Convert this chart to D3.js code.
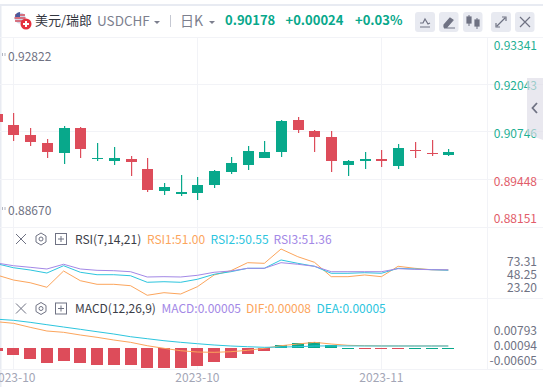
<!DOCTYPE html>
<html>
<head>
<meta charset="utf-8">
<script src="https://cdn.jsdelivr.net/npm/d3@7/dist/d3.min.js"></script>
<style>
html,body{margin:0;padding:0;background:#fff;overflow:hidden}
svg{display:block}
text{font-family:"Noto Sans CJK SC","Noto Sans",sans-serif}
</style>
</head>
<body>
<svg id="c" width="543" height="387"></svg>
<script>
// Candle data, index -1 .. 26
const opens  = [.91224,.90923,.90650,.90432,.90159,.90842,.89995,.89941,.89995,.89722,.89122,.89040,.89067,.89285,.89640,.89831,.90023,.90186,.91060,.90760,.90596,.89831,.89941,.89995,.89804,.90241,.90159,.90104];
const highs  = [.91224,.91251,.90842,.90541,.90896,.90869,.90432,.90323,.90077,.90023,.89340,.89558,.89504,.89695,.90050,.90350,.90487,.91060,.91142,.90787,.90760,.89968,.90186,.90241,.90405,.90459,.90514,.90268];
const lows   = [.91005,.90487,.90350,.90023,.89859,.90023,.89941,.89831,.89531,.89094,.89012,.88985,.88876,.89203,.89586,.89695,.90023,.90050,.90705,.90186,.89640,.89531,.89722,.89777,.89722,.90023,.90077,.90077];
const closes = [.91005,.90650,.90459,.90186,.90842,.90268,.90023,.90023,.89913,.89149,.89231,.89094,.89285,.89668,.89886,.90214,.90186,.91033,.90787,.90596,.89941,.89941,.89995,.89941,.90296,.90214,.90132,.90178];
const rsi1 = [41.6,32.1,27.0,18.4,49.1,30.8,24.0,24.0,21.4,3.3,8.2,5.7,19.5,41.6,49.7,64.8,63.6,90.6,76.1,65.5,38.4,38.4,41.6,38.4,58.0,54.2,51.5,51.0];
const rsi2 = [62.9,55.3,51.0,45.3,59.1,46.7,42.1,42.1,40.2,27.8,28.9,27.8,33.5,42.9,47.8,54.2,54.2,69.9,63.6,58.0,44.8,44.8,45.9,44.8,54.2,52.9,51.6,50.55];
const rsi3 = [64.2,59.1,56.1,52.9,61.8,52.9,50.4,49.7,47.8,37.8,38.4,37.8,41.0,46.7,49.1,54.2,54.2,64.8,61.8,58.0,47.8,47.8,47.8,47.8,53.5,52.3,51.6,51.36];
const dif = [.01137,.01063,.00876,.00704,.00643,.00518,.00410,.00285,.00177,.00019,-.00102,-.00214,-.00275,-.00289,-.00261,-.00195,-.00102,.00019,.00098,.00177,.00098,.00038,.00019,.00010,.00008,.00007,.00008,.00008];
const dea = [.01254,.01203,.01109,.00998,.00890,.00783,.00671,.00564,.00438,.00345,.00252,.00177,.00112,.00052,.00005,-.00028,-.00056,-.00042,-.00028,.00005,.00010,.00008,.00007,.00006,.00006,.00005,.00005,.00005];
const hist = [-.00154,-.00340,-.00527,-.00713,-.00620,-.00713,-.00806,-.00806,-.00806,-.00946,-.00946,-.00946,-.00853,-.00666,-.00480,-.00294,-.00140,.00140,.00233,.00280,.00140,.00002,-.00002,-.00002,-.00002,.00002,.00002,.00002];
const priceTicks = [.93341,.92043,.90746,.89448,.88151];
const rsiTicks = [73.31,48.25,23.20];
const macdTicks = [.00793,.00094,-.00605];
const dateLabels = [[1,"2023-10"],[12,"2023-10"],[23,"2023-11"]];

const GREEN="#08a88b", RED="#dd4c5a", ORANGE="#fca55c", CYAN="#2cc5de", PURPLE="#a388e6", GRID="#f2f3f7", TXT="#6f7283";
const svg=d3.select("#c");
const idx=d3.range(opens.length);
const x=d3.scaleLinear().domain([0,27]).range([-3.3,448.3]);
const xp=i=>x(i);
const yP=d3.scaleLinear().domain([.88151,.93341]).range([226.5,36.5]);
const yR=d3.scaleLinear().domain([0,100]).range([297.03,244.03]);
const yM=d3.scaleLinear().domain([-.00605,.00793]).range([359.1,329.1]);
const yH=d3.scaleLinear().domain([-.00605,.00793]).range([361,331]);

svg.append("rect").attr("width",543).attr("height",387).attr("fill","#fff");
// page chrome
svg.append("rect").attr("x",0).attr("y",4).attr("width",543).attr("height",2).attr("fill","#e8ebf2");
svg.append("rect").attr("x",0).attr("y",4).attr("width",1.5).attr("height",383).attr("fill","#e8ebf2");

// grid
const g=svg.append("g").attr("stroke",GRID).attr("fill","none");
[37].concat(priceTicks.slice(1).map(yP)).concat([297.5,368.5]).forEach(v=>{
  g.append("line").attr("x1",0).attr("x2",543).attr("y1",Math.round(v)+.5).attr("y2",Math.round(v)+.5);
});
g.append("line").attr("x1",0).attr("x2",543).attr("y1",227.5).attr("y2",227.5);
dateLabels.forEach(d=>g.append("line").attr("x1",Math.round(xp(d[0]))+.5).attr("x2",Math.round(xp(d[0]))+.5).attr("y1",37).attr("y2",369));
g.append("line").attr("x1",487.5).attr("x2",487.5).attr("y1",37).attr("y2",369);

// candles
const plot=svg.append("g");
const W=11;
idx.forEach(i=>{
  const up=closes[i]>=opens[i], col=up?GREEN:RED, cx=Math.round(xp(i));
  const yh=Math.round(yP(highs[i])), yl=Math.round(yP(lows[i]));
  plot.append("rect").attr("x",cx).attr("width",1.2).attr("y",yh).attr("height",yl-yh).attr("fill",col);
  const a=Math.round(yP(opens[i])), b=Math.round(yP(closes[i]));
  plot.append("rect").attr("x",cx-5).attr("width",W).attr("y",Math.min(a,b)).attr("height",Math.max(1,Math.abs(a-b))).attr("fill",col);
});
// RSI
const lineOf=(scale)=>d3.line().x((d,i)=>xp(i)).y(d=>scale(d));
[[rsi1,ORANGE],[rsi2,CYAN],[rsi3,PURPLE]].forEach(s=>{
  svg.append("path").attr("d",lineOf(yR)(s[0])).attr("fill","none").attr("stroke",s[1]).attr("stroke-width",1);
});
// MACD hist
hist.forEach((v,i)=>{
  const cx=Math.round(xp(i)), y0=Math.round(yH(0)), y1=Math.round(yH(v)), big=Math.abs(y1-y0)>=1;
  svg.append("rect").attr("x",cx-6).attr("width",12)
    .attr("y",big?Math.min(y0,y1):y0).attr("height",big?Math.abs(y1-y0):1)
    .attr("fill",v<0?RED:GREEN);
});
[[dif,ORANGE],[dea,CYAN]].forEach(s=>{
  svg.append("path").attr("d",lineOf(yM)(s[0])).attr("fill","none").attr("stroke",s[1]).attr("stroke-width",1);
});

// right axes
function label(t,xx,yy,o){
  return svg.append("text").attr("x",xx).attr("y",yy).text(t)
    .attr("font-size",(o&&o.s)||12).attr("fill",(o&&o.c)||TXT)
    .attr("text-anchor",(o&&o.a)||"start").attr("font-weight",(o&&o.w)||400);
}
priceTicks.forEach((v,i)=>{
  const py=[49.5,89.6,137.6,185.6,222.6][i];
  label(d3.format(".5f")(v),537,py,{a:"end",c:i<3?"#1fb094":"#e25c69"});
});
rsiTicks.forEach(v=>label(v.toFixed(2),537,yR(v)+7.7,{a:"end"}));
macdTicks.forEach(v=>label(v.toFixed(5),537,yM(v)+5.8,{a:"end"}));

// collapse handle
svg.append("path").attr("d","M543,78H527V134L543,140Z").attr("fill","#dddce6").attr("opacity",.65);
svg.append("path").attr("d","M537,103L532.5,108L537,113").attr("fill","none").attr("stroke","#6f7283").attr("stroke-width",1.8);

// hi/lo
label("0.92822",8,61,{});
label("0.88670",8,215,{});
svg.append("path").attr("d","M2.5,207v3M5,207v3M2.5,53v3M5,53v3").attr("stroke","#a0a3b3").attr("stroke-width",.8);

// x labels
dateLabels.forEach(d=>label(d[1],xp(d[0]),382,{a:"middle",c:"#a3a6b6"}));

// header
const flag=svg.append("g");
flag.append("circle").attr("cx",20).attr("cy",18).attr("r",5.5).attr("fill","#cfd3e6");
flag.append("path").attr("d","M15,15h10M14.5,18h11M15,21h10").attr("stroke","#d8505d").attr("stroke-width",1.3);
flag.append("path").attr("d","M15,17a5.5,5.5 0 0 1 5,-5v5z").attr("fill","#4a5a9c");
flag.append("circle").attr("cx",26).attr("cy",24).attr("r",5.5).attr("fill","#e6303e");
flag.append("path").attr("d","M23,24h6M26,21v6").attr("stroke","#fff").attr("stroke-width",2);
label("美元/瑞郎",35,25,{s:13,c:"#33363f"});
label("USDCHF",97,26,{s:13.5,c:"#7c7f8e"});
svg.append("path").attr("d","M154,21h6l-3,3z").attr("fill","#7c7f8e");
svg.append("rect").attr("x",170).attr("y",15).attr("width",1).attr("height",12).attr("fill","#c5c8d2");
label("日K",180,26,{s:14,c:"#7c7f8e"});
svg.append("path").attr("d","M209,21h6l-3,3z").attr("fill","#7c7f8e");
label("0.90178",225,25,{s:13,c:GREEN,w:700});
label("+0.00024",285.5,25,{s:13,c:GREEN,w:700});
label("+0.03%",355,25,{s:13,c:GREEN,w:700});
[[415,20],[439,19.5],[463,19.5],[491,20],[515,19.5]].forEach(b=>{
  svg.append("rect").attr("x",b[0]).attr("y",12).attr("width",b[1]).attr("height",20).attr("rx",3).attr("fill","#e8eaf1");
});
const ic=svg.append("g").attr("fill","none").attr("stroke","#6f7283").attr("stroke-width",1.2);
ic.append("path").attr("d","M420,23l3,0l2,-4l3,5l2,-1M420,27h10");
ic.append("path").attr("d","M444,25l6,-7l3,2l-6,7h-3zM444,28h11").attr("fill","#6f7283");
ic.append("path").attr("d","M469,15v11M477,18v11").attr("stroke-width",1);
ic.append("rect").attr("x",467).attr("y",17).attr("width",4).attr("height",6).attr("fill","#6f7283");
ic.append("rect").attr("x",475).attr("y",20).attr("width",4).attr("height",6).attr("fill","#6f7283");
ic.append("path").attr("d","M497,26l8,-8M502,17h4v4M496,23v4h4");
ic.append("path").attr("d","M520,17l10,10M530,17l-10,10");

// pane legends
function paneIcons(yc){
  const p=svg.append("g").attr("fill","none").attr("stroke","#6f7283").attr("stroke-width",1);
  p.append("path").attr("d",`M16,${yc-5}l10,10M26,${yc-5}l-10,10`);
  p.append("path").attr("d",`M41,${yc-6}l5,3v6l-5,3l-5,-3v-6z`);
  p.append("circle").attr("cx",41).attr("cy",yc).attr("r",2);
  p.append("rect").attr("x",55.5).attr("y",yc-5.5).attr("width",11).attr("height",11);
  p.append("path").attr("d",`M58,${yc}h6M61,${yc-3}v6`);
}
paneIcons(239);
paneIcons(308.5);
label("RSI(7,14,21)",75,244,{s:12,c:"#3b3e48"});
label("RSI1:51.00",147,244,{s:12,c:ORANGE});
label("RSI2:50.55",210.5,244,{s:12,c:"#2cc5de"});
label("RSI3:51.36",273.5,244,{s:12,c:PURPLE});
label("MACD(12,26,9)",75,313,{s:12,c:"#3b3e48"});
label("MACD:0.00005",161.5,313,{s:12,c:PURPLE});
label("DIF:0.00008",246,313,{s:12,c:ORANGE});
label("DEA:0.00005",316.5,313,{s:12,c:"#2cc5de"});
</script>
</body>
</html>
